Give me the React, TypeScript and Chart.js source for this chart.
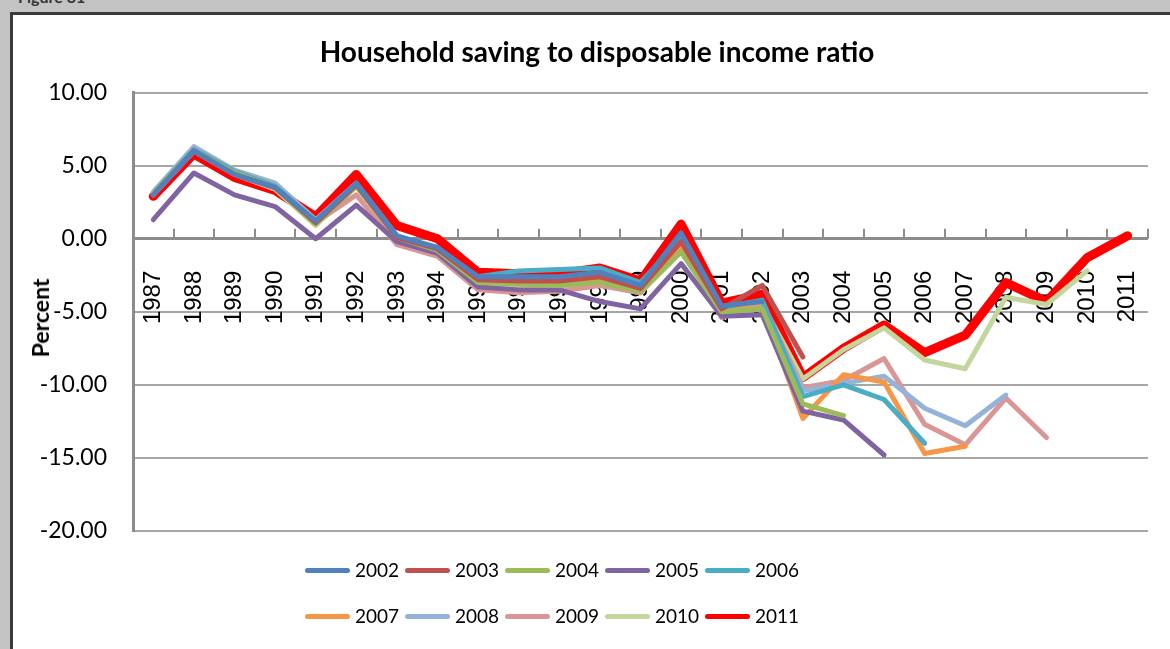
import React, { useEffect, useRef } from 'react';
import { Chart, registerables } from 'chart.js';

Chart.register(...registerables);

const years = ['1987', '1988', '1989', '1990', '1991', '1992', '1993', '1994', '1995', '1996', '1997', '1998', '1999', '2000', '2001', '2002', '2003', '2004', '2005', '2006', '2007', '2008', '2009', '2010', '2011'];

const v2002 = [3.0, 6.0, 4.4, 3.5, 1.2, 3.8, 0.2, -0.6, -2.6, -2.6, -2.6, -2.3, -3.2, 0.4, -4.6, -4.3];
const v2003 = [3.0, 6.0, 4.4, 3.5, 1.1, 3.7, 0.1, -0.7, -2.8, -2.9, -2.9, -2.6, -3.4, -0.2, -4.8, -3.2, -8.1];
const v2004 = [3.1, 6.0, 4.5, 3.5, 1.0, 3.6, 0.1, -0.8, -3.0, -3.1, -3.2, -3.0, -3.6, -0.9, -5.0, -4.8, -11.3, -12.1];
const v2005 = [1.3, 4.5, 3.0, 2.2, 0.0, 2.3, -0.2, -1.0, -3.3, -3.5, -3.5, -4.3, -4.8, -1.7, -5.3, -5.2, -11.8, -12.4, -14.8];
const v2006 = [3.1, 6.1, 4.6, 3.6, 1.2, 3.7, 0.2, -0.7, -2.6, -2.2, -2.1, -2.0, -3.0, 0.0, -4.7, -4.2, -10.8, -10.0, -11.0, -14.0];
const v2007 = [3.1, 6.1, 4.6, 3.6, 1.2, 3.7, 0.1, -0.8, -2.9, -3.1, -3.1, -2.9, -3.5, -0.6, -4.9, -4.7, -12.3, -9.3, -9.8, -14.7, -14.2];
const v2008 = [3.2, 6.3, 4.7, 3.8, 1.3, 3.8, 0.2, -0.8, -3.0, -3.0, -3.0, -2.8, -3.3, 0.3, -5.0, -4.6, -10.4, -9.9, -9.4, -11.6, -12.8, -10.7];
const v2009 = [3.0, 6.0, 4.4, 3.5, 1.1, 3.0, -0.4, -1.2, -3.5, -3.7, -3.6, -3.2, -3.7, -0.5, -5.4, -4.4, -10.2, -9.7, -8.2, -12.7, -14.1, -10.9, -13.6];
const v2010 = [3.0, 6.0, 4.4, 3.4, 0.9, 3.6, 0.1, -0.9, -3.3, -3.4, -3.4, -3.1, -3.7, -0.9, -5.0, -4.5, -9.6, -7.6, -6.1, -8.3, -8.9, -4.0, -4.5, -2.2];
const v2011 = [2.9, 5.8, 4.2, 3.3, 1.5, 4.4, 0.9, 0.0, -2.3, -2.4, -2.4, -2.0, -2.9, 1.0, -4.4, -3.8, -9.5, -7.5, -5.9, -7.8, -6.6, -3.0, -4.3, -1.3, 0.2];

const seriesNames = ['2002', '2003', '2004', '2005', '2006', '2007', '2008', '2009', '2010', '2011'];
const seriesValues = [v2002, v2003, v2004, v2005, v2006, v2007, v2008, v2009, v2010, v2011];
const seriesColors = ['#4F81BD', '#C0504D', '#9BBB59', '#8064A2', '#4BACC6', '#F79646', '#95B3D7', '#D99694', '#C3D69B', '#FF0000'];

const yTicks = [-20, -15, -10, -5, 0, 5, 10];

const upTicks = {
  id: 'upTicks',
  beforeDatasetsDraw(chart: any) {
    const xs = chart.scales.x;
    const ys = chart.scales.y;
    const y0 = ys.getPixelForValue(0);
    const n = chart.data.labels.length;
    const step = (xs.right - xs.left) / n;
    const ctx = chart.ctx;
    ctx.save();
    ctx.strokeStyle = '#8c8c8c';
    ctx.lineWidth = 2;
    for (let i = 1; i <= n; i++) {
      const px = Math.round(xs.left + step * i);
      ctx.beginPath();
      ctx.moveTo(px, y0);
      ctx.lineTo(px, y0 - 10);
      ctx.stroke();
    }
    ctx.restore();
  },
};

export default function App() {
  const ref = useRef<HTMLCanvasElement | null>(null);

  useEffect(() => {
    if (!ref.current) return;
    const chart = new Chart(ref.current, {
      type: 'line',
      data: {
        labels: years,
        datasets: seriesNames.map((name, i) => ({
          label: name,
          data: seriesValues[i],
          borderColor: seriesColors[i],
          backgroundColor: seriesColors[i],
          borderWidth: name === '2011' ? 9 : 5,
          pointRadius: 0,
          tension: 0,
          fill: false,
          borderJoinStyle: 'round' as const,
          borderCapStyle: 'round' as const,
        })),
      },
      options: {
        animation: false,
        responsive: false,
        events: [],
        layout: { padding: { top: 15, right: 27, bottom: 118, left: 27 } },
        plugins: {
          legend: { display: false },
          tooltip: { enabled: false },
          title: {
            display: true,
            text: 'Household saving to disposable income ratio',
            color: '#000',
            font: { family: 'Lato', size: 28, weight: 'bold' },
            padding: { top: 6, bottom: 23 },
          },
        },
        scales: {
          x: {
            type: 'category',
            position: { y: 0 } as any,
            offset: true,
            grid: { display: false, offset: true },
            border: { display: true, color: '#8c8c8c', width: 3 },
            ticks: {
              autoSkip: false,
              minRotation: 90,
              maxRotation: 90,
              padding: 24,
              color: '#000',
              font: { family: 'Liberation Sans', size: 24 },
            },
          },
          y: {
            min: -20,
            max: 10,
            afterFit(scale: any) {
              scale.width = 93;
            },
            afterBuildTicks(scale: any) {
              scale.ticks = yTicks.map((v) => ({ value: v }));
            },
            grid: { color: '#a6a6a6', lineWidth: 2, drawTicks: false },
            border: { display: true, color: '#8c8c8c', width: 3 },
            ticks: {
              padding: 26,
              color: '#000',
              font: { family: 'Lato', size: 23 },
              callback: (v: any) => Number(v).toFixed(2),
            },
          },
        },
      },
      plugins: [upTicks],
    });
    return () => chart.destroy();
  }, []);

  const legendRow = (names: string[], offset: number) => (
    <div style={{ display: 'flex', height: 30, alignItems: 'center' }}>
      {names.map((n, k) => (
        <div key={n} style={{ width: 100, display: 'flex', alignItems: 'center' }}>
          <div style={{ width: 45, height: 5, borderRadius: 3, background: seriesColors[offset + k] }} />
          <span style={{ marginLeft: 5, fontFamily: 'Lato', fontSize: 19, color: '#000', lineHeight: '30px' }}>{n}</span>
        </div>
      ))}
    </div>
  );

  return (
    <div style={{ position: 'fixed', left: 0, top: 0, width: 1170, height: 649, overflow: 'hidden', background: '#c3c3c3' }}>
      <div style={{ position: 'absolute', left: 18, top: -13, fontFamily: 'Lato', fontWeight: 'bold', fontSize: 16, color: '#333' }}>Figure 31</div>
      <div style={{ position: 'absolute', left: 10, top: 12, width: 1300, height: 800, background: '#3a3a3a' }} />
      <div style={{ position: 'absolute', left: 13, top: 15, width: 1300, height: 800, background: '#ffffff' }}>
        <canvas ref={ref} width={1168} height={634} style={{ display: 'block', width: 1168, height: 634 }} />
      </div>
      <div
        style={{
          position: 'absolute',
          left: 40,
          top: 318,
          transform: 'translate(-50%, -50%) rotate(-90deg)',
          fontFamily: 'Lato',
          fontWeight: 'bold',
          fontSize: 23,
          color: '#000',
          whiteSpace: 'nowrap',
        }}
      >
        Percent
      </div>
      <div style={{ position: 'absolute', left: 305, top: 555 }}>
        {legendRow(seriesNames.slice(0, 5), 0)}
        <div style={{ height: 16 }} />
        {legendRow(seriesNames.slice(5), 5)}
      </div>
    </div>
  );
}
